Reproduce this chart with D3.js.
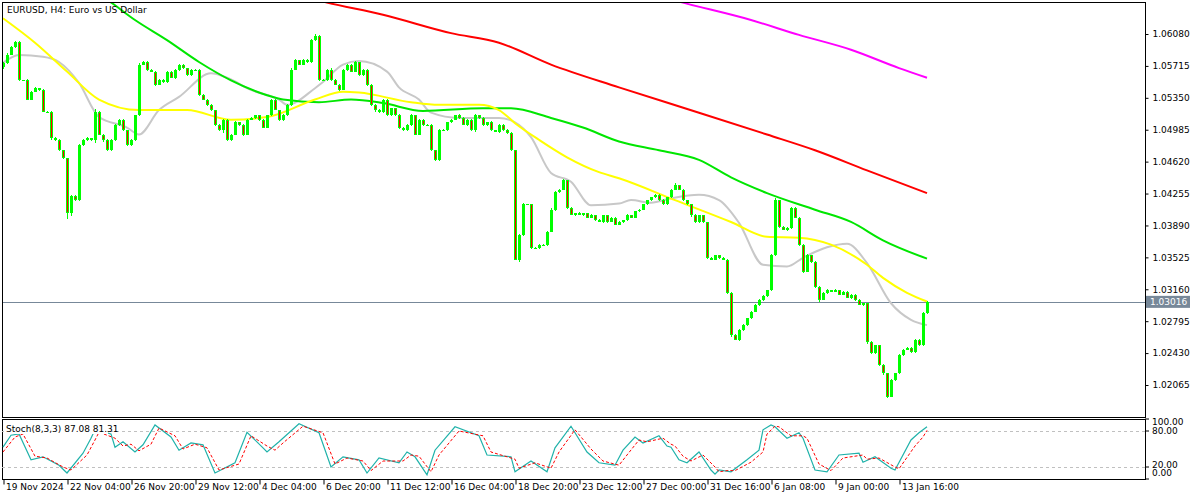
<!DOCTYPE html>
<html>
<head>
<meta charset="utf-8">
<script src="https://cdn.jsdelivr.net/npm/d3@7"></script>
<style>
  body { margin: 0; background: #fff; }
  svg text { font-family: "DejaVu Sans", sans-serif; font-size: 9px; fill: #000; }
  .axis path, .axis line { stroke: #000; }
</style>
</head>
<body>
<svg width="1200" height="500"></svg>
<script>
const firstOpen = 1.0570
const closes = [
  1.0575,1.0584,1.0593,1.0599,1.0555,1.0555,1.0533,1.0542,1.0546,1.0544,1.0519,1.0519,1.0489,1.0487,1.0475,1.0466,
  1.0403,1.0423,1.0418,1.0481,1.0487,1.0489,1.0487,1.0519,1.0493,1.0487,1.0475,1.0487,1.0504,1.0510,1.0498,1.0481,
  1.0487,1.0515,1.0573,1.0576,1.0567,1.0565,1.0550,1.0555,1.0553,1.0565,1.0558,1.0567,1.0573,1.0569,1.0561,1.0567,
  1.0567,1.0538,1.0533,1.0527,1.0521,1.0504,1.0498,1.0510,1.0487,1.0493,1.0507,1.0504,1.0493,1.0510,1.0512,1.0515,
  1.0510,1.0501,1.0515,1.0533,1.0521,1.0510,1.0515,1.0527,1.0567,1.0578,1.0573,1.0578,1.0576,1.0601,1.0606,1.0555,
  1.0555,1.0567,1.0555,1.0550,1.0544,1.0567,1.0573,1.0565,1.0576,1.0561,1.0567,1.0550,1.0527,1.0521,1.0519,1.0533,
  1.0515,1.0523,1.0515,1.0501,1.0498,1.0504,1.0515,1.0493,1.0510,1.0504,1.0504,1.0475,1.0464,1.0498,1.0498,1.0507,
  1.0510,1.0515,1.0512,1.0504,1.0510,1.0498,1.0515,1.0512,1.0504,1.0507,1.0498,1.0496,1.0504,1.0498,1.0495,1.0475,
  1.0350,1.0378,1.0413,1.0413,1.0363,1.0363,1.0367,1.0367,1.0382,1.0407,1.0427,1.0430,1.0441,1.0409,1.0401,1.0403,
  1.0401,1.0403,1.0398,1.0401,1.0395,1.0393,1.0401,1.0393,1.0398,1.0390,1.0393,1.0395,1.0401,1.0398,1.0405,1.0407,
  1.0413,1.0418,1.0421,1.0424,1.0418,1.0413,1.0421,1.0430,1.0435,1.0430,1.0418,1.0413,1.0401,1.0393,1.0401,1.0393,
  1.0352,1.0350,1.0355,1.0352,1.0350,1.0312,1.0264,1.0258,1.0269,1.0275,1.0283,1.0290,1.0298,1.0304,1.0308,1.0315,
  1.0355,1.0418,1.0387,1.0384,1.0386,1.0409,1.0398,1.0367,1.0336,1.0355,1.0347,1.0319,1.0304,1.0312,1.0315,1.0313,
  1.0315,1.0310,1.0313,1.0306,1.0310,1.0304,1.0298,1.0300,1.0256,1.0243,1.0252,1.0229,1.0220,1.0193,1.0212,1.0220,
  1.0241,1.0247,1.0249,1.0244,1.0258,1.0252,1.0289,1.0302
]
// wick lengths beyond the body, in pips
const upWick = [
  1,2,1,1,1,.5,1,.5,1,.5,1,.5,.5,1,.5,.5,
  .5,1,.5,1,.5,1,.5,3,.5,1,1,.5,1,.5,1,.5,
  .5,.5,2,1,1,.5,1,1,1,.5,1,1,1,.5,.5,1,
  .5,.5,1,.5,1,.5,1,.5,.5,1,1,.5,1,.5,1,.5,
  .5,1,.5,1,1,.5,1,1,2,1,.5,1,1,1,2,.5,
  1,.5,2,1,1,1,.5,1,1,.5,1,1,.5,.5,1,.5,
  1,.5,.5,1,.5,1,1,.5,1,.5,1,.5,.5,1,1,.5,
  1,.5,1,.5,1,.5,2,.5,1,.5,1,.5,1,.5,1,.5,
  .5,1,2,1,.5,1,.5,1,1,2,1,.5,1,.5,1,.5,
  1,.5,.5,1,.5,1,.5,.5,1,.5,1,.5,1,.5,1,.5,
  1,.5,1,.5,1,1,1,.5,2.5,.5,1,.5,.5,1,.5,.5,
  .5,1,.5,.5,.5,.5,.5,.5,1,1,.5,1,1,.5,1,.5,
  1,2,.5,1,1,1.5,1.5,.5,1,1,.5,1,.5,1,1,.5,
  1,.5,1,.5,1,.5,1,.5,.5,1,.5,.5,1,.5,1,.5,
  1,.5,1,.5,1,1,.5,.5
]
const dnWick = [
  2,1,.5,1,1,.5,1,1,.5,1,.5,1,2,1,.5,1,
  7,3,1,1,1,1,1,4,1,2,1,1,1,1,1,1,
  1,1,.5,1,1,.5,1,.5,1,1,.5,1,1,.5,1,.5,
  1,1,.5,1,1,1,1,3,1,1,1,1,2,1,.5,1,
  1,.5,1,1,.5,1,1,1,1,.5,1,.5,1,1,1,1,
  .5,1,1,.5,1,.5,1,1,.5,1,1,2,1,2,1,1,
  1,1,.5,2,1,1,1,1,.5,1,1,1,1,1,.5,1,
  1,.5,1,.5,1,1,2,1,1,1,1,.5,1,.5,1,1,
  1,3,.5,1,1,1,.5,2,1,.5,1,.5,.5,1,.5,1,
  .5,1,1,.5,1,.5,1,1,.5,1,.5,1,.5,1,.5,1,
  .5,1,.5,1,1,.5,1,1,1,1,.5,1,2,1,1,1,
  1,1,.5,1,1,1,3,.5,1,1,.5,1,.5,1,1,1,
  1,1,1,.5,1,.5,1,1,1,.5,1,1,2,.5,1,.5,
  .5,1,1,.5,1,1,.5,1,3,1,1,1,2,1,.5,1,
  1,1,.5,1,1,1,1,1
]

// moving averages, [bar, price]
const maGray = [[0,1.0575],[4,1.0584],[10,1.0582],[14,1.0576],[19,1.0552],[24,1.0513],[31,1.0501],[34,1.0493],[39,1.0521],[44,1.0536],[52,1.0563],[56,1.0558],[62,1.0544],[69,1.0533],[71,1.0527],[78,1.0546],[80,1.0553],[85,1.0573],[89,1.0577],[96,1.0565],[99,1.0547],[104,1.0533],[107,1.0518],[114,1.0512],[124,1.0512],[128,1.0507],[132,1.0490],[137,1.0449],[142,1.0439],[147,1.0412],[154,1.0414],[157,1.0418],[162,1.0415],[167,1.0420],[174,1.0424],[179,1.0418],[184,1.0392],[190,1.0344],[196,1.0342],[200,1.0352],[206,1.0364],[211,1.0368],[216,1.0346],[222,1.0300],[227,1.0281],[231,1.0275]]
const maYellow = [[0,1.0626],[8,1.0598],[16,1.0565],[24,1.0533],[34,1.0521],[46,1.0521],[57,1.0510],[66,1.0513],[78,1.0533],[85,1.0542],[89,1.0541],[102,1.0530],[109,1.0527],[119,1.0527],[124,1.0521],[128,1.0506],[134,1.0487],[141,1.0467],[149,1.0450],[154,1.0443],[168,1.0418],[182,1.0393],[191,1.0376],[199,1.0375],[207,1.0367],[216,1.0344],[220,1.0329],[226,1.0312],[231,1.0302]]
const maGreen = [[24,1.0653],[27,1.0644],[33,1.0624],[41,1.0601],[49,1.0576],[57,1.0555],[66,1.0538],[70,1.0533],[79,1.0530],[87,1.0533],[95,1.0529],[105,1.0520],[120,1.0523],[127,1.0523],[137,1.0512],[145,1.0501],[154,1.0485],[164,1.0475],[174,1.0464],[182,1.0444],[191,1.0426],[203,1.0407],[212,1.0393],[220,1.0372],[231,1.0351]]
const maRed = [[74,1.0652],[81,1.0644],[95,1.0630],[112,1.0609],[124,1.0598],[137,1.0573],[154,1.0547],[174,1.0518],[191,1.0493],[203,1.0475],[216,1.0452],[231,1.0426]]
const maMagenta = [[165,1.0650],[169,1.0645],[187,1.0624],[199,1.0607],[212,1.0590],[224,1.0569],[231,1.0558]]

const stochK = [[0,53],[2,73],[4,75],[7,32],[10,37],[14,23],[16,10],[20,43],[22,68],[23,82],[27,75],[28,53],[30,62],[33,45],[35,57],[38,90],[42,70],[44,48],[47,60],[50,57],[53,10],[58,27],[61,78],[65,52],[66,45],[69,62],[74,92],[79,77],[82,20],[85,37],[89,32],[91,10],[94,35],[99,27],[101,45],[103,37],[106,7],[108,48],[113,87],[119,72],[121,40],[127,37],[128,12],[132,30],[136,12],[138,52],[142,88],[146,45],[149,27],[153,23],[155,48],[158,70],[160,60],[164,72],[166,55],[167,53],[169,32],[171,27],[174,45],[177,15],[178,8],[179,15],[182,12],[186,32],[189,48],[190,82],[192,90],[193,87],[196,68],[199,77],[200,68],[203,15],[206,12],[209,40],[214,43],[215,28],[218,37],[222,18],[223,15],[227,65],[229,77],[231,87]]
const stochD = [[0,45],[3,70],[5,75],[8,38],[11,35],[15,20],[17,15],[21,40],[23,65],[24,78],[28,68],[30,55],[32,58],[34,47],[37,58],[39,85],[43,72],[45,50],[48,58],[51,52],[54,15],[59,25],[62,72],[66,55],[68,48],[70,60],[75,88],[80,77],[83,25],[86,35],[90,30],[92,14],[95,30],[100,30],[102,40],[104,38],[107,12],[109,40],[114,80],[120,72],[122,45],[128,33],[129,18],[133,27],[137,18],[139,45],[143,82],[147,50],[150,30],[154,23],[156,40],[159,65],[161,62],[165,68],[167,58],[168,55],[170,38],[172,30],[175,40],[178,20],[179,12],[181,14],[183,14],[187,28],[190,45],[191,75],[193,88],[194,87],[197,72],[200,72],[201,68],[204,25],[207,14],[210,35],[215,40],[216,33],[219,35],[223,20],[224,17],[228,55],[230,70],[231,81]]

const priceTicks = [1.06080,1.05715,1.05350,1.04985,1.04620,1.04255,1.03890,1.03525,1.03160,1.02795,1.02430,1.02065]
const lastPrice = 1.03016
const dateLabels = ['19 Nov 2024','22 Nov 04:00','26 Nov 20:00','29 Nov 12:00','4 Dec 04:00','6 Dec 20:00','11 Dec 12:00','16 Dec 04:00','18 Dec 20:00','23 Dec 12:00','27 Dec 00:00','31 Dec 16:00','6 Jan 08:00','9 Jan 00:00','13 Jan 16:00']
const stochLevels = [80, 20]

const svg = d3.select('svg')
const left = 2, right = 1145
const mainTop = 2, mainBottom = 417
const stTop = 419, stBottom = 479

const x = d3.scaleLinear().domain([0, 231]).range([3, 927])
const y = d3.scaleLinear().domain([1.02065, 1.06080]).range([385, 34])
const ys = d3.scaleLinear().domain([0, 100]).range([stBottom, stTop])

svg.append('clipPath').attr('id', 'clipMain')
  .append('rect').attr('x', left).attr('y', mainTop).attr('width', right - left).attr('height', mainBottom - mainTop)

const main = svg.append('g').attr('clip-path', 'url(#clipMain)')

// last price line
main.append('line')
  .attr('x1', left).attr('x2', right)
  .attr('y1', Math.round(y(lastPrice)) + 0.5).attr('y2', Math.round(y(lastPrice)) + 0.5)
  .attr('stroke', '#778899')

// moving averages
const line = d3.line().x(d => x(d[0])).y(d => y(d[1])).curve(d3.curveMonotoneX)
const mas = [[maGray, '#c8c8c8'], [maMagenta, '#ff00ff'], [maRed, '#ff0000'], [maGreen, '#00e600'], [maYellow, '#ffff00']]
mas.forEach(([data, color]) => {
  main.append('path').datum(data)
    .attr('d', line).attr('fill', 'none').attr('stroke', color).attr('stroke-width', 2)
})

// candles
const candles = closes.map((c, i) => {
  const o = i === 0 ? firstOpen : closes[i - 1]
  return {
    i, o, c,
    h: Math.max(o, c) + upWick[i] * 0.0001,
    l: Math.min(o, c) - dnWick[i] * 0.0001
  }
})
const cg = main.selectAll('g.candle').data(candles).enter().append('g')
  .attr('shape-rendering', 'crispEdges')
cg.append('rect')
  .attr('x', d => Math.round(x(d.i)))
  .attr('y', d => Math.round(y(d.h)))
  .attr('width', 1)
  .attr('height', d => Math.max(1, Math.round(y(d.l)) - Math.round(y(d.h))))
  .attr('fill', '#00ff00')
cg.append('rect')
  .attr('x', d => Math.round(x(d.i)) - 1)
  .attr('y', d => Math.round(y(Math.max(d.o, d.c))))
  .attr('width', 3)
  .attr('height', d => Math.max(1, Math.round(y(Math.min(d.o, d.c))) - Math.round(y(Math.max(d.o, d.c)))))
  .attr('fill', '#00ff00')
cg.filter(d => d.c < d.o).append('rect')
  .attr('x', d => Math.round(x(d.i)))
  .attr('y', d => Math.round(y(d.o)) + 1)
  .attr('width', 1)
  .attr('height', d => Math.max(0, Math.round(y(d.c)) - Math.round(y(d.o)) - 2))
  .attr('fill', '#ff0000')

// frames
svg.append('rect').attr('x', left + 0.5).attr('y', mainTop + 0.5)
  .attr('width', right - left).attr('height', mainBottom - mainTop)
  .attr('fill', 'none').attr('stroke', '#000')
svg.append('rect').attr('x', left + 0.5).attr('y', stTop + 0.5)
  .attr('width', right - left).attr('height', stBottom - stTop)
  .attr('fill', 'none').attr('stroke', '#000')

svg.append('text').attr('x', 7).attr('y', 13).text('EURUSD, H4:  Euro vs US Dollar')

// price axis
svg.append('g').attr('class', 'axis')
  .attr('transform', `translate(${right + 0.5},0)`)
  .call(d3.axisRight(y).tickValues(priceTicks).tickSize(3).tickFormat(d3.format('.5f')))
  .call(g => g.select('.domain').remove())
  .call(g => g.selectAll('text').attr('x', 7))

const py = y(lastPrice)
svg.append('rect').attr('x', right + 1).attr('y', py - 6).attr('width', 44).attr('height', 12).attr('fill', '#778899')
svg.append('text').attr('x', right + 5).attr('y', py + 3.5).style('fill', '#fff').text(d3.format('.5f')(lastPrice))

// stochastic
stochLevels.forEach(v => {
  svg.append('line').attr('x1', left).attr('x2', right)
    .attr('y1', Math.round(ys(v)) + 0.5).attr('y2', Math.round(ys(v)) + 0.5)
    .attr('stroke', '#c0c0c0').attr('stroke-dasharray', '3,3')
})
const sline = d3.line().x(d => x(d[0])).y(d => ys(d[1]))
svg.append('path').datum(stochK).attr('d', sline).attr('fill', 'none').attr('stroke', '#20b2aa').attr('stroke-width', 1.2)
svg.append('path').datum(stochD).attr('d', sline).attr('fill', 'none').attr('stroke', '#ff0000').attr('stroke-dasharray', '3,2')

svg.append('rect').attr('x', 4).attr('y', 422).attr('width', 104).attr('height', 12).attr('fill', '#fff')
svg.append('text').attr('x', 6).attr('y', 432).text('Stoch(8,3,3) 87.08 81.31')

const stLabels = [[100, 425], [80, 434], [20, 468], [0, 476]]
stLabels.forEach(([v, yy]) => {
  svg.append('line').attr('x1', right).attr('x2', right + 4).attr('y1', ys(v)).attr('y2', ys(v)).attr('stroke', '#000')
  svg.append('text').attr('x', right + 7).attr('y', yy).text(d3.format('.2f')(v))
})

// date axis
svg.append('g').attr('class', 'axis')
  .attr('transform', `translate(0.5,${stBottom + 0.5})`)
  .call(d3.axisBottom(x).tickValues(dateLabels.map((d, k) => k * 16)).tickSize(5).tickFormat((d, k) => dateLabels[k]))
  .call(g => g.select('.domain').remove())
  .call(g => g.selectAll('text').attr('text-anchor', 'start').attr('x', 2).attr('dy', '0.3em'))
</script>
</body>
</html>
